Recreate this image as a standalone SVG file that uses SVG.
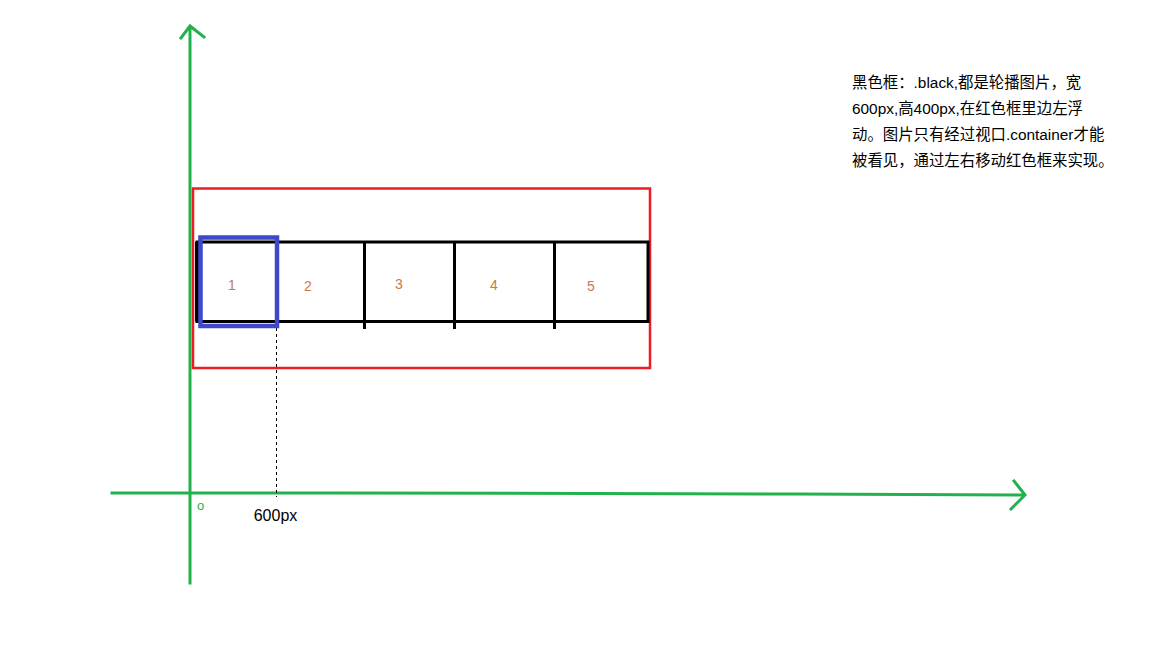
<svg xmlns="http://www.w3.org/2000/svg" width="1152" height="648" viewBox="0 0 1152 648">
<style>
.axis{stroke:#22b14c;stroke-width:3;fill:none;stroke-linecap:square}
.blk{stroke:#000;stroke-width:3;fill:none}
.num{font-family:"Liberation Sans","Noto Sans",sans-serif;font-size:14px;fill:#c8784e}
.note{font-family:"Liberation Sans","Noto Sans CJK SC",sans-serif;font-size:15.4px;fill:#000}
</style>
<rect width="1152" height="648" fill="#fff"/>
<g id="connectors">
<path class="axis" d="M190 583 L190 27 M181 38 L190 26 L204 37"/>
<path class="axis" d="M112 493 L340 493 L797 494 L1024 495 M1014 481 L1025 495 L1011 509"/>
<path d="M276.5 328 L276.5 497" stroke="#000" stroke-width="1" stroke-dasharray="3,3"/>
</g>
<g id="container"><rect x="193" y="188.5" width="457" height="179.5" fill="none" stroke="#ed1c24" stroke-width="2.5"/></g>
<g id="strip">
<rect x="197" y="242" width="451" height="79.5" class="blk"/>
<line x1="197" y1="242" x2="197" y2="321.5" stroke="#000" stroke-width="4"/>
<line x1="364.5" y1="242" x2="364.5" y2="329" class="blk"/>
<line x1="454.5" y1="242" x2="454.5" y2="329" class="blk"/>
<line x1="554.5" y1="242" x2="554.5" y2="329" class="blk"/>
</g>
<g id="n1"><text class="num" x="232" y="290" text-anchor="middle">1</text></g>
<g id="n2"><text class="num" x="308" y="291" text-anchor="middle">2</text></g>
<g id="n3"><text class="num" x="399" y="289" text-anchor="middle">3</text></g>
<g id="n4"><text class="num" x="494" y="290" text-anchor="middle">4</text></g>
<g id="n5"><text class="num" x="591" y="291" text-anchor="middle">5</text></g>
<g id="viewport"><rect x="200.5" y="237.5" width="76.5" height="88.5" fill="none" stroke="#3f48cc" stroke-width="4.5"/></g>
<g id="origin"><text x="200.5" y="510" font-family="Liberation Sans,sans-serif" font-size="13" fill="#22b14c" text-anchor="middle">o</text></g>
<g id="label600"><text x="275.5" y="521" font-family="Liberation Sans,sans-serif" font-size="16" fill="#000" text-anchor="middle">600px</text></g>
<g id="note">
<text class="note" x="852" y="88">黑色框：.black,都是轮播图片，宽</text>
<text class="note" x="852" y="114">600px,高400px,在红色框里边左浮</text>
<text class="note" x="852" y="140">动。图片只有经过视口.container才能</text>
<text class="note" x="852" y="166">被看见，通过左右移动红色框来实现。</text>
</g>
</svg>
